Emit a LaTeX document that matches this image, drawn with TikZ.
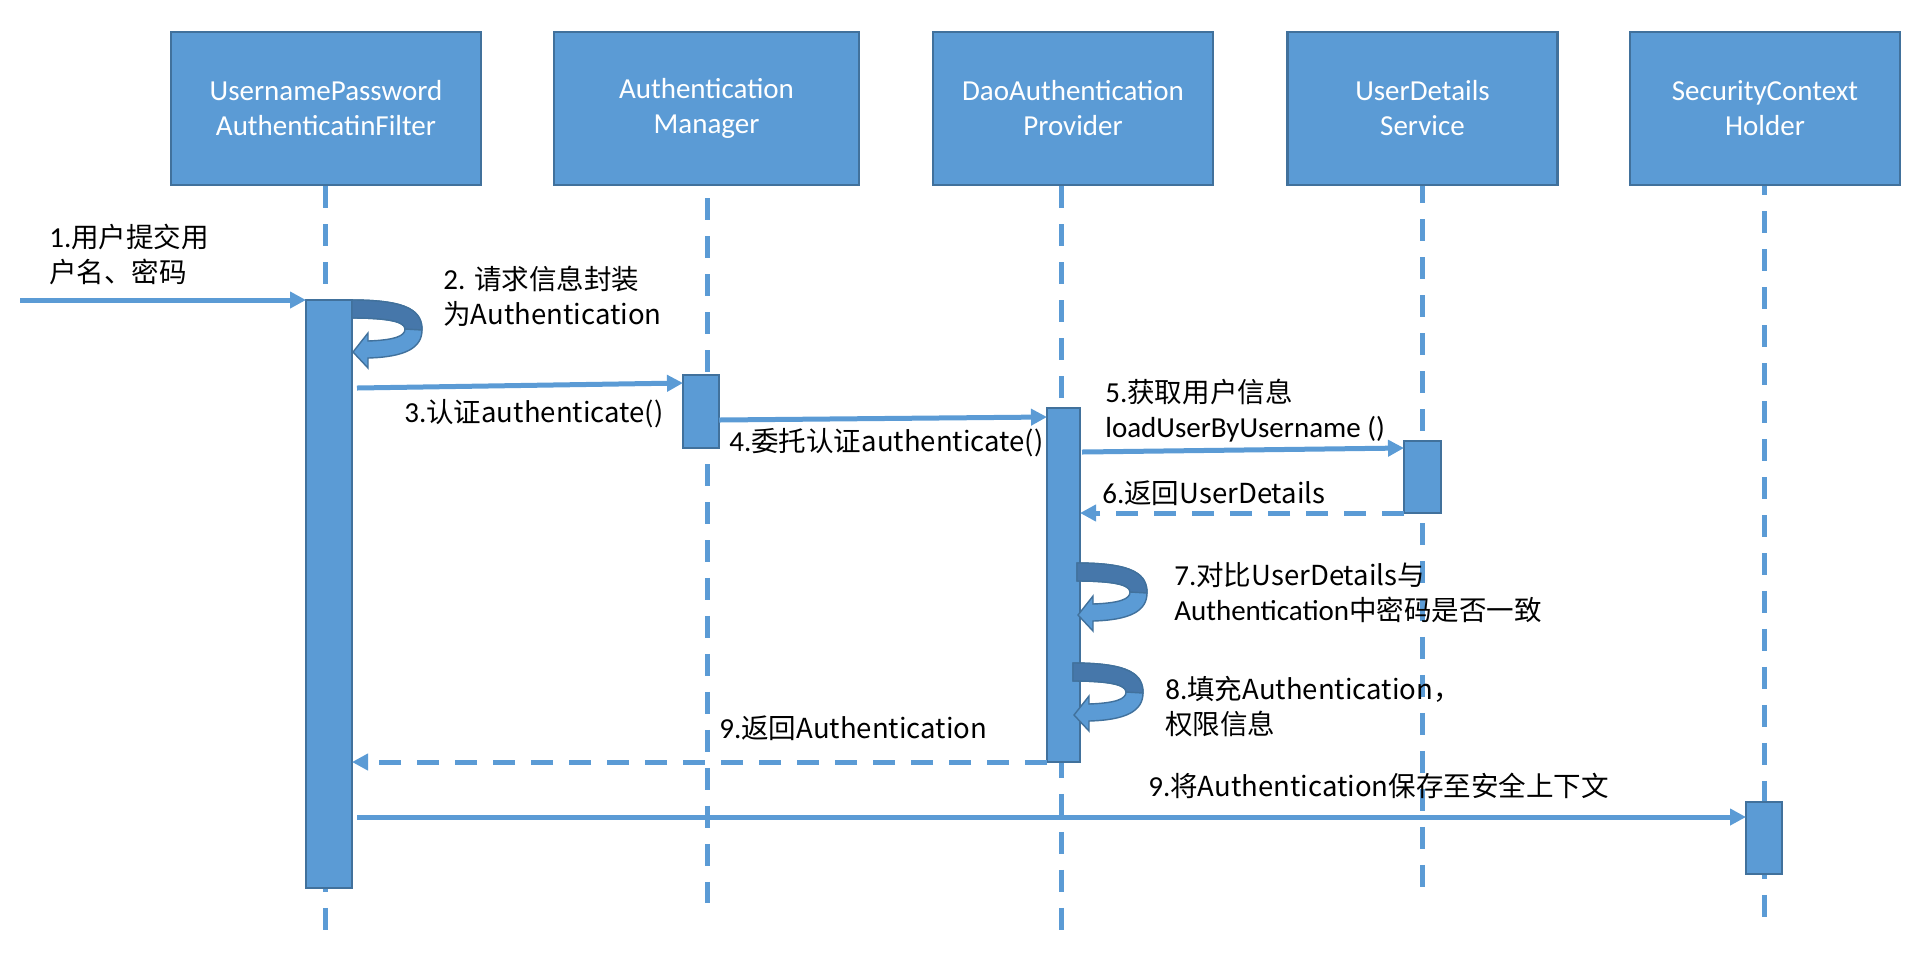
\documentclass[tikz,border=0pt]{standalone}
\usepackage{fontspec}
\setmainfont{Carlito}
\newfontfamily\cjk{Noto Sans CJK SC}[Scale=0.95]
\usepackage{xcolor}
\usetikzlibrary{arrows.meta,calc}

\definecolor{boxblue}{HTML}{5B9BD5}
\definecolor{boxedge}{HTML}{41719C}
\definecolor{loopdark}{HTML}{4677AA}

\tikzset{
	head/.style={draw=boxedge, fill=boxblue, line width=1.2pt, text=white, align=center, minimum height=153*0.02cm, inner sep=0pt},
	lifeline/.style={draw=boxblue, line width=0.1cm, dash pattern=on 0.44cm off 0.32cm},
	bar/.style={draw=boxedge, fill=boxblue, line width=1.1pt, inner sep=0pt, outer sep=0pt},
	msg/.style={draw=boxblue, line width=0.1cm, -{Triangle[length=0.32cm,width=0.32cm]}},
	reply/.style={msg, dash pattern=on 0.44cm off 0.32cm},
	note/.style={anchor=west, inner sep=0pt, align=left},
	selfloop/.pic={
		\fill[boxblue, draw=boxedge, line width=0.8pt] (0,0) .. controls (58,0) and (70,12) .. (70,30) .. controls (70,48) and (53,57) .. (16,58) -- (16,68) -- (1,52) -- (16,33) -- (16,41) .. controls (43,40) and (53,36) .. (53,29) .. controls (53,22) and (38,18) .. (0,18) -- cycle;
		\fill[loopdark, draw=boxedge, line width=0.8pt] (0,0) .. controls (58,0) and (70,12) .. (70,30) -- (53,29) .. controls (53,22) and (38,18) .. (0,18) -- cycle;
	}
}

\begin{document}
\begin{tikzpicture}[x=0.02cm, y=-0.02cm, font=\fontsize{16.5}{19.9}\selectfont]

\useasboundingbox (0,0) rectangle (1932,958);

\node[head, minimum width=310*0.02cm] (filter) at (326,108.5) {UsernamePassword\\AuthenticatinFilter};
\node[head, minimum width=305*0.02cm] (manager) at (706.5,108.5) {Authentication\\Manager};
\node[head, minimum width=280*0.02cm] (provider) at (1073,108.5) {DaoAuthentication\\Provider};
\node[head, minimum width=270*0.02cm] (service) at (1422.5,108.5) {UserDetails\\Service};
\node[head, minimum width=270*0.02cm] (holder) at (1765,108.5) {SecurityContext\\Holder};

\foreach \b/\x/\e/\p in {filter/325/930/0, manager/707/903/0.52, provider/1061/930/0, service/1422/887/0.1, holder/1764/918/0.26}
	{
		\draw[lifeline, dash phase=\p cm] (\b.south -| \x,0) -- (\x,\e);
	}

\node[bar, minimum width=46*0.02cm, minimum height=588*0.02cm] (bar1) at (329,594) {};
\node[bar, minimum width=36*0.02cm, minimum height=73*0.02cm] (bar2) at (701,411.5) {};
\node[bar, minimum width=33*0.02cm, minimum height=354*0.02cm] (bar3) at (1063.5,585) {};
\node[bar, minimum width=37*0.02cm, minimum height=72*0.02cm] (bar4) at (1422.5,477) {};
\node[bar, minimum width=36*0.02cm, minimum height=72*0.02cm] (bar5) at (1764,838) {};

\coordinate (user) at (20,300);

\draw[msg] (user) -- (bar1.north west);
\pic at (bar1.north east) {selfloop};
\draw[msg] ($(bar1.north east)+(5,88)$) -- ($(bar2.north west)+(0,8)$);
\draw[msg] ($(bar2.north east)+(0,45)$) -- ($(bar3.north west)+(0,9)$);
\draw[msg] ($(bar3.north east)+(2,44)$) -- ($(bar4.north west)+(0,7)$);
\draw[reply] (bar4.south west) -- ($(bar3.north east)+(0,105)$);
\pic at ($(bar3.north east)+(-3,155)$) {selfloop};
\pic at ($(bar3.north east)+(-7,255)$) {selfloop};
\draw[reply] (bar3.south west) -- ($(bar1.north east)+(0,462)$);
\draw[msg] ($(bar1.north east)+(5,517)$) -- ($(bar5.north west)+(0,15)$);

\node[note] (n1) at (49,254.5) {1.\cjk{用户提交用}\\\cjk{户名、密码}};
\node[note] (n2) at (443,296) {2. \cjk{请求信息封装}\\\cjk{为}Authentication};
\node[note] (n3) at (404,414) {3.\cjk{认证}authenticate()};
\node[note] (n4) at (729,443) {4.\cjk{委托认证}authenticate()};
\node[note] (n5) at (1105,410.5) {5.\cjk{获取用户信息}\\loadUserByUsername ()};
\node[note] (n6) at (1102,493) {6.\cjk{返回}UserDetails};
\node[note] (n7) at (1174,592.5) {7.\cjk{对比}UserDetails\cjk{与}\\Authentication\cjk{中密码是否一致}};
\node[note] (n8) at (1165,707) {8.\cjk{填充}Authentication\cjk{，}\\\cjk{权限信息}};
\node[note] (n9) at (719,728) {9.\cjk{返回}Authentication};
\node[note] (n10) at (1148,786) {9.\cjk{将}Authentication\cjk{保存至安全上下文}};

\end{tikzpicture}
\end{document}
